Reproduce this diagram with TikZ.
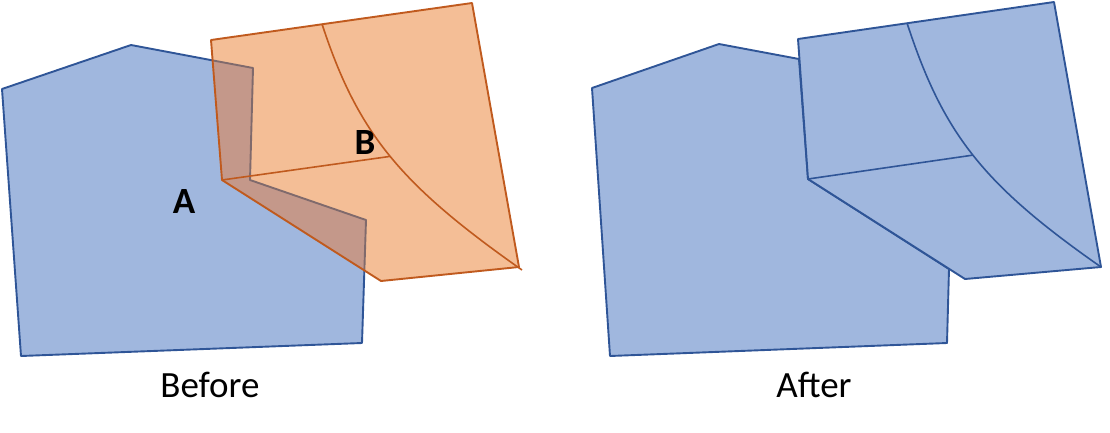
\documentclass[tikz,border=0pt]{standalone}
\usepackage{fontspec}
\setmainfont{Carlito}
\definecolor{polyBlue}{HTML}{A0B7DE}
\definecolor{polyBlueLine}{HTML}{2F5597}
\definecolor{polyOrange}{HTML}{F4BE96}
\definecolor{polyOrangeLine}{HTML}{C05A1E}
\definecolor{polyOverlap}{HTML}{C4988A}
\definecolor{polyHidden}{HTML}{806A6C}
\tikzset{
  bluepoly/.style   = {fill=polyBlue, draw=polyBlueLine, line width=1.9pt, line join=round},
  blueline/.style   = {polyBlueLine, line width=1.6pt},
  orangefill/.style = {fill=polyOrange},
  orangeedge/.style = {polyOrangeLine, line width=1.9pt, line join=round},
  orangeline/.style = {polyOrangeLine, line width=1.6pt},
  overlapfill/.style= {fill=polyOverlap},
  hiddenedge/.style = {polyHidden, line width=1.9pt, line join=round},
  lbl/.style        = {anchor=base, inner sep=0pt, font=\fontsize{37}{40}\selectfont},
  blbl/.style       = {lbl, font=\fontsize{37}{40}\selectfont\bfseries},
}

\begin{document}
\begin{tikzpicture}[x=1pt,y=-1pt]
  \useasboundingbox (0,0) rectangle (1110,432);
  % before
  \coordinate (o1) at (211,40);  \coordinate (o2) at (472,3);
  \coordinate (o3) at (519,267); \coordinate (o4) at (381,281);
  \coordinate (o5) at (222,180);
  \draw[bluepoly] (2,89) -- (131,45) -- (253,68) -- (250,180) -- (366,220)
    -- (362,343) -- (21,356) -- cycle;
  \fill[orangefill] (o1) -- (o2) -- (o3) -- (o4) -- (o5) -- cycle;
  \begin{scope}
    \clip (o1) -- (o2) -- (o3) -- (o4) -- (o5) -- cycle;
    \fill[overlapfill] (2,89) -- (131,45) -- (253,68) -- (250,180) -- (366,220)
      -- (362,343) -- (21,356) -- cycle;
    \draw[hiddenedge] (131,45) -- (253,68) -- (250,180) -- (366,220) -- (362,343);
  \end{scope}
  \draw[orangeedge] (o1) -- (o2) -- (o3) -- (o4) -- (o5) -- cycle;
  \draw[orangeline] (322,24) .. controls (358,134) and (401,185) .. (522,270)
    coordinate[pos=0.5] (bMid);
  \draw[orangeline] (o5) -- (bMid);
  \node[blbl] (labelA) at (184,213) {A};
  \node[blbl] (labelB) at (365,154) {B};
  \node[lbl] (before) at (210,397) {Before};
  % after
  \coordinate (q1) at (798,39);  \coordinate (q2) at (1054,2);
  \coordinate (q3) at (1101,267); \coordinate (q4) at (965,279);
  \coordinate (q5) at (808,179);
  \draw[bluepoly] (592,88) -- (719,44) -- (799,59) -- (q5) -- (949,269)
    -- (947,343) -- (610,356) -- cycle;
  \draw[bluepoly] (q1) -- (q2) -- (q3) -- (q4) -- (q5) -- cycle;
  \draw[blueline] (907,23) .. controls (943,133) and (982,184) .. (q3)
    coordinate[pos=0.5] (aMid);
  \draw[blueline] (q5) -- (aMid);
  \node[lbl] (after) at (814,397) {After};
\end{tikzpicture}
\end{document}
